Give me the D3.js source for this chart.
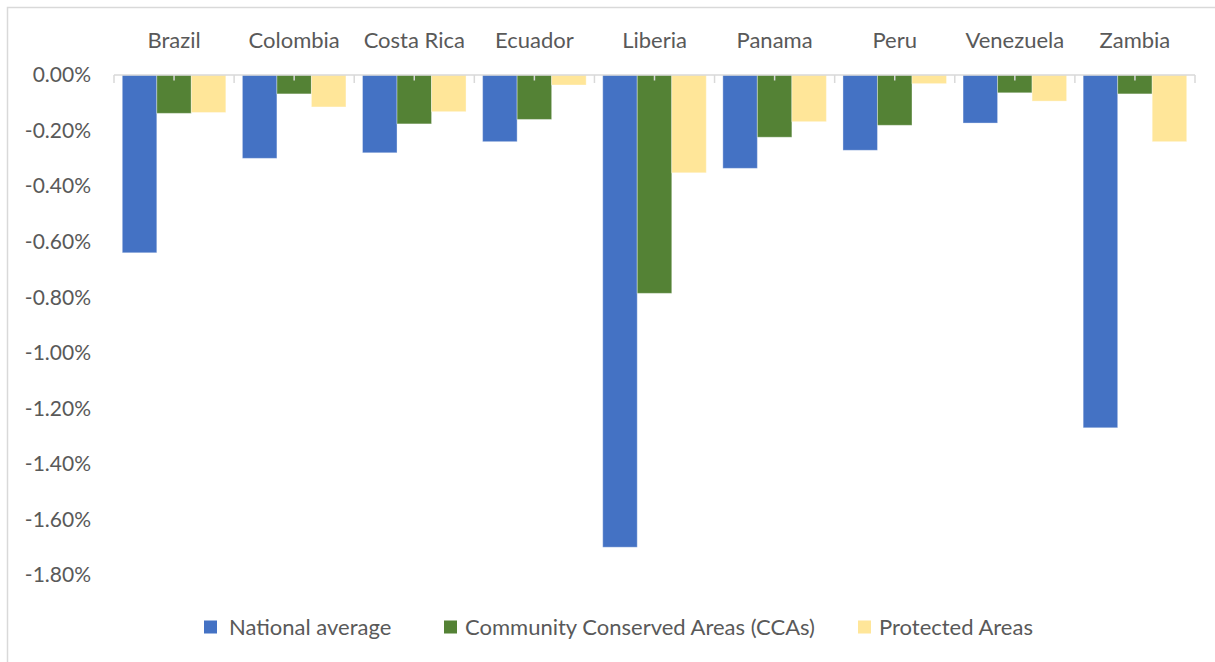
<!DOCTYPE html>
<meta charset="utf-8">
<style>
    body { margin: 0; background: #fff; }
    text { font-family: Lato, "Open Sans", sans-serif; fill: #595959; }
</style>
<body>
<script src="https://cdn.jsdelivr.net/npm/d3@7"></script>
<script>

    var width = 1215,
        height = 662;

    // values in percent
    var countries = ["Brazil", "Colombia", "Costa Rica", "Ecuador", "Liberia", "Panama", "Peru", "Venezuela", "Zambia"];
    var nationalAverage = [-0.64, -0.30, -0.28, -0.24, -1.70, -0.336, -0.271, -0.173, -1.27];
    var ccas = [-0.138, -0.068, -0.176, -0.160, -0.786, -0.224, -0.181, -0.064, -0.068];
    var protectedAreas = [-0.135, -0.115, -0.132, -0.036, -0.352, -0.168, -0.031, -0.094, -0.240];
    var seriesNames = ["National average", "Community Conserved Areas (CCAs)", "Protected Areas"];
    var yTicks = [0, -0.2, -0.4, -0.6, -0.8, -1.0, -1.2, -1.4, -1.6, -1.8];

    var colors = ["#4472C4", "#548235", "#FFE699"];
    var seriesValues = [nationalAverage, ccas, protectedAreas];

    var svg = d3.select("body").append("svg")
        .attr("width", width)
        .attr("height", height);

    // chart frame
    svg.append("rect")
        .attr("x", 7.5).attr("y", 7.5)
        .attr("width", 1230).attr("height", 680)
        .attr("fill", "none")
        .attr("stroke", "#d9d9d9")
        .attr("stroke-width", 1.5);

    var x = d3.scaleBand()
        .domain(countries)
        .range([114, 1195]);

    var inner = d3.scaleBand()
        .domain(d3.range(3))
        .range([0, x.bandwidth()])
        .paddingInner(0)
        .paddingOuter(0.24);

    var y = d3.scaleLinear()
        .domain([-1.8, 0])
        .range([575, 75]);

    var fmt = d3.formatLocale({ decimal: ".", thousands: ",", grouping: [3], currency: ["", ""], minus: "-" }).format(".2f");

    // y tick labels (no axis line)
    svg.append("g")
        .selectAll("text")
        .data(yTicks)
        .enter().append("text")
        .attr("x", 91)
        .attr("y", function(d) { return y(d); })
        .attr("dy", "0.35em")
        .attr("text-anchor", "end")
        .style("font-size", "21px")
        .text(function(d) { return fmt(d) + "%"; });

    // bars
    countries.forEach(function(c, i) {
        svg.append("g")
            .selectAll("rect")
            .data(seriesValues.map(function(s) { return s[i]; }))
            .enter().append("rect")
            .attr("x", function(d, j) { return x(c) + inner(j); })
            .attr("y", y(0))
            .attr("width", inner.bandwidth())
            .attr("height", function(d) { return y(d) - y(0); })
            .attr("fill", function(d, j) { return colors[j]; })
            .attr("stroke", "rgba(255,255,255,0.35)")
            .attr("stroke-width", 1);
    });

    // category axis at zero
    svg.append("line")
        .attr("x1", 114).attr("x2", 1195)
        .attr("y1", y(0)).attr("y2", y(0))
        .attr("stroke", "#d9d9d9")
        .attr("stroke-width", 1.5);

    var bounds = countries.map(function(c) { return x(c); }).concat([x.range()[1]]);
    svg.append("g")
        .selectAll("line")
        .data(bounds)
        .enter().append("line")
        .attr("x1", function(d) { return d; })
        .attr("x2", function(d) { return d; })
        .attr("y1", y(0)).attr("y2", y(0) + 8)
        .attr("stroke", "#d9d9d9")
        .attr("stroke-width", 1.5);

    svg.append("g")
        .selectAll("line")
        .data(countries)
        .enter().append("line")
        .attr("x1", function(d) { return x(d) + x.bandwidth() / 2; })
        .attr("x2", function(d) { return x(d) + x.bandwidth() / 2; })
        .attr("y1", y(0)).attr("y2", y(0) + 5.5)
        .attr("stroke", "#d9d9d9")
        .attr("stroke-width", 1.5);

    // category labels on top
    svg.append("g")
        .selectAll("text")
        .data(countries)
        .enter().append("text")
        .attr("x", function(d) { return x(d) + x.bandwidth() / 2; })
        .attr("y", 40)
        .attr("dy", "0.35em")
        .attr("text-anchor", "middle")
        .style("font-size", "22px")
        .text(function(d) { return d; });

    // legend
    var legendX = [204, 444, 858];
    var legend = svg.append("g")
        .selectAll("g")
        .data(seriesNames)
        .enter().append("g")
        .attr("transform", function(d, i) { return "translate(" + legendX[i] + ",627)"; });

    legend.append("rect")
        .attr("x", 0).attr("y", -6.5)
        .attr("width", 13).attr("height", 13)
        .attr("fill", function(d, i) { return colors[i]; });

    legend.append("text")
        .attr("x", function(d, i) { return i === 0 ? 25 : 21; })
        .attr("dy", "0.35em")
        .style("font-size", "22px")
        .text(function(d) { return d; });

</script>
